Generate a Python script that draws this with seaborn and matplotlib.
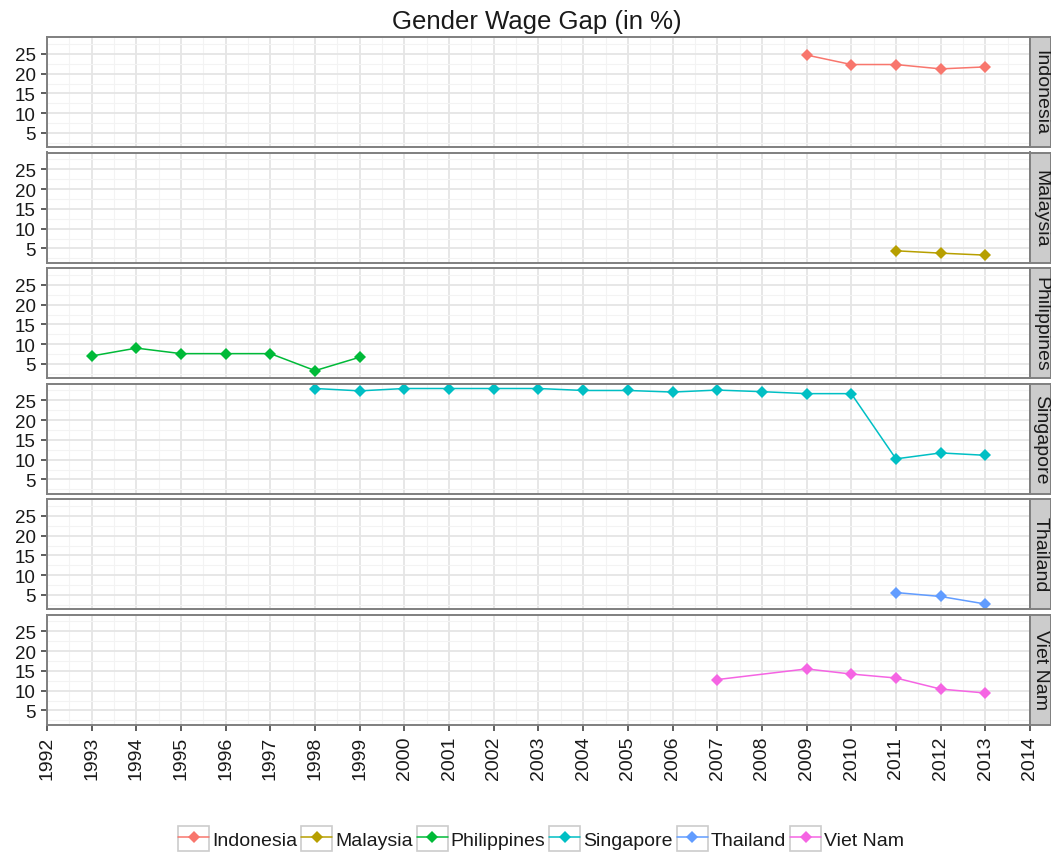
import numpy as np
import pandas as pd
import matplotlib
matplotlib.use("Agg")
import matplotlib.pyplot as plt
import seaborn as sns
from matplotlib.lines import Line2D
from matplotlib.patches import Rectangle
from matplotlib.legend_handler import HandlerLine2D
from matplotlib.ticker import MultipleLocator, FixedLocator

# ---------------- data ----------------
countries = ["Indonesia", "Malaysia", "Philippines", "Singapore", "Thailand", "Viet Nam"]
palette = ["#F8766D", "#B79F00", "#00BA38", "#00BFC4", "#619CFF", "#F564E3"]

indonesia_years = [2009, 2010, 2011, 2012, 2013]
indonesia_gap = [24.7, 22.3, 22.3, 21.2, 21.7]

malaysia_years = [2011, 2012, 2013]
malaysia_gap = [4.4, 3.8, 3.3]

philippines_years = [1993, 1994, 1995, 1996, 1997, 1998, 1999]
philippines_gap = [7.0, 9.0, 7.6, 7.6, 7.6, 3.3, 6.7]

singapore_years = [1998, 1999, 2000, 2001, 2002, 2003, 2004, 2005,
                   2006, 2007, 2008, 2009, 2010, 2011, 2012, 2013]
singapore_gap = [28.0, 27.4, 28.0, 28.0, 28.0, 28.0, 27.5, 27.5,
                 27.1, 27.6, 27.2, 26.7, 26.7, 10.2, 11.7, 11.1]

thailand_years = [2011, 2012, 2013]
thailand_gap = [5.6, 4.6, 2.7]

vietnam_years = [2007, 2009, 2010, 2011, 2012, 2013]
vietnam_gap = [12.8, 15.5, 14.2, 13.2, 10.4, 9.4]

x_ticks = list(range(1992, 2015))
y_ticks = [5, 10, 15, 20, 25]
title = "Gender Wage Gap (in %)"

series = {
    "Indonesia": (indonesia_years, indonesia_gap),
    "Malaysia": (malaysia_years, malaysia_gap),
    "Philippines": (philippines_years, philippines_gap),
    "Singapore": (singapore_years, singapore_gap),
    "Thailand": (thailand_years, thailand_gap),
    "Viet Nam": (vietnam_years, vietnam_gap),
}
df = pd.concat(
    [pd.DataFrame({"country": c, "year": y, "gap": g}) for c, (y, g) in series.items()],
    ignore_index=True,
)

# ---------------- style ----------------
sns.set_theme(style="white")
plt.rcParams["font.family"] = ["Liberation Sans", "DejaVu Sans"]

W, H = 1051, 853
fig = plt.figure(figsize=(W / 100, H / 100), dpi=100)
fig.patch.set_facecolor("white")

ymin, ymax = df["gap"].min(), df["gap"].max()
ypad = 0.05 * (ymax - ymin)
ylim = (ymin - ypad, ymax + ypad)
xlim = (1992, 2014)

left, right_panel, strip_w = 47, 1030, 21
panel_h, step, top0 = 110, 115.5, 38
color_map = dict(zip(countries, palette))

for i, c in enumerate(countries):
    top = top0 + i * step
    bottom = H - top - panel_h
    ax = fig.add_axes([left / W, bottom / H, (right_panel - left) / W, panel_h / H])
    sub = df[df["country"] == c]
    sns.lineplot(data=sub, x="year", y="gap", ax=ax, color=color_map[c],
                 marker="D", markersize=6.5, markeredgewidth=0, linewidth=1.1,
                 legend=False, sort=True)
    ax.set_xlim(*xlim)
    ax.set_ylim(*ylim)
    ax.set_xlabel("")
    ax.set_ylabel("")
    ax.xaxis.set_major_locator(FixedLocator(x_ticks))
    ax.xaxis.set_minor_locator(MultipleLocator(0.5))
    ax.yaxis.set_major_locator(FixedLocator(y_ticks))
    ax.yaxis.set_minor_locator(MultipleLocator(2.5))
    ax.set_axisbelow(True)
    ax.grid(which="major", color="#E5E5E5", linewidth=1.3)
    ax.grid(which="minor", color="#F3F3F3", linewidth=0.8)
    for s in ax.spines.values():
        s.set_color("#7F7F7F")
        s.set_linewidth(1.4)
    ax.tick_params(axis="y", which="major", length=4, width=1.1, color="#333333",
                   labelsize=13.5, labelcolor="#1A1A1A", pad=4, left=True)
    ax.tick_params(axis="y", which="minor", length=0)
    ax.tick_params(axis="x", which="minor", length=0)
    if i < len(countries) - 1:
        ax.tick_params(axis="x", which="major", length=0, labelbottom=False)
    else:
        ax.set_xticks(x_ticks)
        ax.set_xticklabels([str(t) for t in x_ticks], rotation=90, va="top", ha="center")
        ax.tick_params(axis="x", which="major", length=4, width=1.1, color="#333333",
                       labelsize=14, labelcolor="#1A1A1A", pad=4, bottom=True)

    # facet strip on the right
    sax = fig.add_axes([right_panel / W, bottom / H, strip_w / W, panel_h / H])
    sax.set_facecolor("#CCCCCC")
    sax.set_xticks([])
    sax.set_yticks([])
    for s in sax.spines.values():
        s.set_color("#7F7F7F")
        s.set_linewidth(1.4)
    sax.text(0.5, 0.5, c, rotation=270, ha="center", va="center",
             fontsize=14, color="#1A1A1A", transform=sax.transAxes)

fig.text(537 / W, 1 - 22 / H, title,
         ha="center", va="center", fontsize=18.5, color="#1A1A1A")


class BoxedHandler(HandlerLine2D):
    def create_artists(self, legend, orig_handle, xdescent, ydescent,
                       width, height, fontsize, trans):
        arts = super().create_artists(legend, orig_handle, xdescent, ydescent,
                                      width, height, fontsize, trans)
        rect = Rectangle((-xdescent, -ydescent - 2), width, height + 4,
                         facecolor="white", edgecolor="#CCCCCC", linewidth=1.2,
                         transform=trans)
        return [rect] + arts


handles = [Line2D([0], [0], color=col, marker="D", markersize=6.5,
                  markeredgewidth=0, linewidth=1.1) for col in palette]
leg = fig.legend(handles, countries, loc="center", ncol=6,
                 bbox_to_anchor=(541 / W, 13 / H), frameon=False,
                 fontsize=14, handlelength=1.6, handleheight=1.2,
                 handletextpad=0.15, columnspacing=0.2, numpoints=1,
                 handler_map={Line2D: BoxedHandler(numpoints=1)})
for t in leg.get_texts():
    t.set_color("#1A1A1A")

fig.savefig("out.png", dpi=100, facecolor="white")
